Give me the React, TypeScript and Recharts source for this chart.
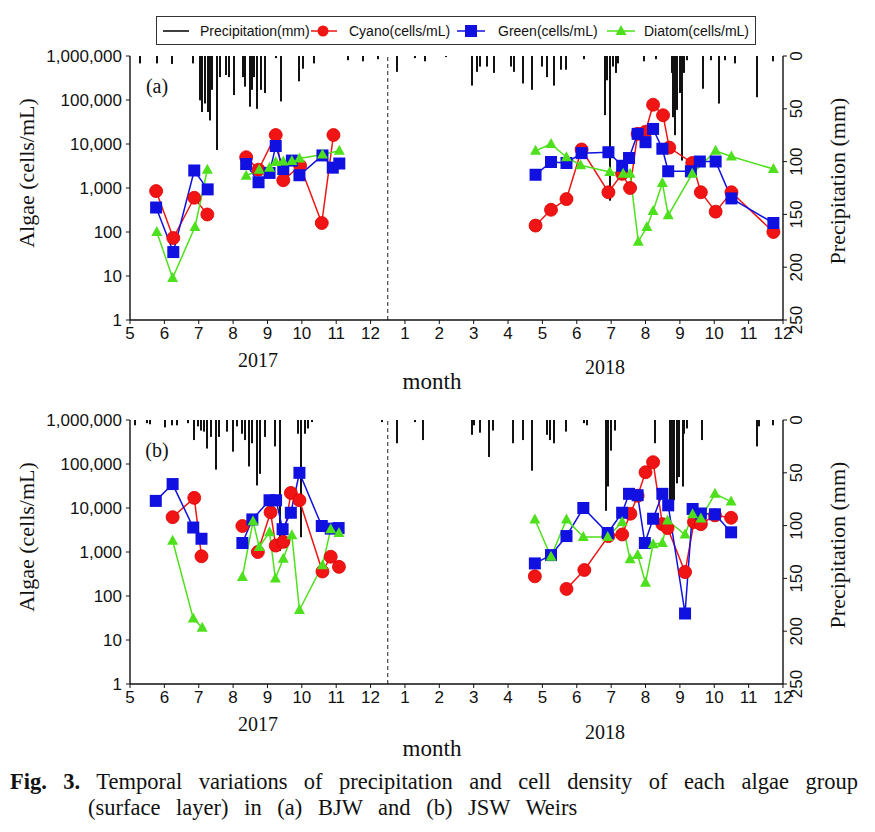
import { ComposedChart, Line, Bar, XAxis, YAxis, ReferenceLine } from 'recharts';

type Pt = [number, number | null];

const SANS = '"Liberation Sans", Arial, sans-serif';
const SERIF = '"Liberation Serif", "Times New Roman", serif';

// x = months counted from Jan 2017 (13 = Jan 2018, 24 = Dec 2018)
const monthTicks = [5, 6, 7, 8, 9, 10, 11, 12, 13, 14, 15, 16, 17, 18, 19, 20, 21, 22, 23, 24];
const algaeTicks = [1, 10, 100, 1000, 10000, 100000, 1000000];
const precipTicks = [0, 50, 100, 150, 200, 250];
const yearSplit = 12.5;

// (a) BJW — null breaks the line between sampling groups
const cyanoA: Pt[] = [
  [5.76, 850], [6.26, 73], [6.87, 600], [7.25, 250], [7.8, null],
  [8.38, 5000], [8.74, 2600], [9.24, 16000], [9.46, 1500], [9.95, 3200], [10.58, 160], [10.92, 16000], [12.5, null],
  [16.8, 140], [17.25, 320], [17.7, 560], [18.14, 7500], [18.92, 800], [19.32, 2100], [19.55, 1000], [19.77, 17000],
  [20.0, 19000], [20.22, 78000], [20.51, 45000], [20.69, 8300], [21.36, 3700], [21.61, 800], [22.04, 290], [22.5, 800], [23.72, 100],
];
const greenA: Pt[] = [
  [5.76, 360], [6.26, 35], [6.87, 2500], [7.26, 930], [7.8, null],
  [8.38, 3500], [8.74, 1350], [9.06, 2200], [9.24, 9000], [9.46, 2700], [9.71, 4200], [9.93, 1950], [10.6, 5500], [10.9, 2900], [11.09, 3600], [12.5, null],
  [16.8, 2000], [17.25, 3900], [17.7, 3700], [18.14, 6200], [18.92, 6500], [19.32, 3200], [19.52, 4800], [19.77, 17000],
  [20.0, 11000], [20.22, 22000], [20.49, 7800], [20.66, 2400], [21.32, 2400], [21.58, 4000], [22.04, 4000], [22.5, 580], [23.72, 160],
];
const diatomA: Pt[] = [
  [5.78, 100], [6.24, 9], [6.89, 130], [7.25, 2600], [7.8, null],
  [8.38, 1900], [8.76, 2600], [9.06, 2900], [9.24, 3900], [9.46, 4000], [9.71, 4100], [9.93, 4700], [10.6, 5800], [11.09, 7000], [12.5, null],
  [16.8, 7000], [17.25, 10000], [17.7, 5000], [18.11, 3300], [18.96, 2300], [19.35, 2100], [19.55, 2100], [19.79, 60],
  [20.04, 130], [20.22, 300], [20.49, 1300], [20.66, 240], [21.36, 2100], [22.04, 7000], [22.5, 5200], [23.72, 2700],
];
const precipA: Pt[] = [
  [5.29, 7], [5.8, 7], [6.21, 7.5], [6.84, 7], [7.04, 42], [7.1, 53], [7.18, 45], [7.26, 53], [7.33, 61], [7.4, 32],
  [7.52, 89], [7.62, 20], [7.79, 18], [7.89, 20], [8.03, 37], [8.3, 20], [8.35, 29], [8.48, 48], [8.55, 32], [8.62, 20],
  [8.71, 50], [8.82, 32], [8.93, 35], [9.25, 2], [9.4, 43], [9.93, 24], [10.02, 12], [10.36, 7], [11.35, 4], [11.79, 5], [12.23, 3],
  [12.78, 15], [13.29, 2], [13.58, 5], [14.2, 1], [14.96, 28], [15.09, 15], [15.18, 10], [15.4, 10], [15.59, 16], [16.1, 10],
  [16.18, 15], [16.44, 26], [16.71, 32], [17.0, 10], [17.12, 20], [17.33, 28], [17.54, 13], [17.68, 13], [18.2, 3], [18.82, 56],
  [18.89, 23], [18.98, 137], [19.05, 10], [19.13, 16], [19.2, 7], [19.96, 5], [20.3, 3], [20.76, 16], [20.81, 58], [20.86, 75],
  [20.93, 51], [21.0, 35], [21.07, 99], [21.12, 16], [21.2, 4], [21.66, 31], [21.9, 4], [22.15, 45], [22.3, 4], [22.6, 7],
  [23.23, 39], [23.7, 5],
];

// (b) JSW
const cyanoB: Pt[] = [
  [6.24, 6200], [6.87, 17000], [7.08, 800], [7.8, null],
  [8.27, 3900], [8.5, null], [8.72, 1000], [9.09, 8000], [9.24, 1400], [9.46, 1700], [9.68, 22000], [9.93, 15000], [10.6, 360], [10.84, 780], [11.08, 460], [12.5, null],
  [16.78, 280], [17.2, null], [17.7, 145], [18.22, 390], [18.92, 2300], [19.32, 2500], [19.56, 7400], [19.77, 19000], [20.0, 65000],
  [20.22, 110000], [20.49, 4300], [20.64, 3500], [21.15, 350], [21.41, 4800], [21.61, 4300], [22.02, 6800], [22.49, 6000],
];
const greenB: Pt[] = [
  [5.75, 14500], [6.24, 35000], [6.84, 3600], [7.08, 2000], [7.8, null],
  [8.27, 1600], [8.56, 5500], [9.06, 15000], [9.25, 15000], [9.44, 3300], [9.68, 7800], [9.93, 63000], [10.58, 3900], [10.84, 3400], [11.07, 3500], [12.5, null],
  [16.78, 550], [17.25, 850], [17.7, 2300], [18.19, 10000], [18.9, 2700], [19.32, 7800], [19.52, 21000], [19.77, 19500], [19.98, 1600],
  [20.22, 5700], [20.49, 21000], [20.66, 11500], [21.15, 40], [21.37, 9500], [21.61, 7500], [22.02, 7200], [22.49, 2800],
];
const diatomB: Pt[] = [
  [6.24, 1800], [6.84, 31], [7.1, 19], [7.8, null],
  [8.27, 270], [8.58, 5000], [8.76, 1300], [9.06, 2800], [9.23, 250], [9.46, 700], [9.71, 2400], [9.93, 48], [10.6, 500], [10.84, 3300], [11.08, 2700], [12.5, null],
  [16.78, 5500], [17.25, 780], [17.7, 5500], [18.19, 2200], [18.9, 2200], [19.32, 4800], [19.55, 680], [19.77, 860], [20.0, 200],
  [20.22, 1500], [20.49, 1600], [20.64, 5200], [21.15, 2500], [21.37, 7200], [21.61, 5800], [22.02, 21000], [22.49, 14000],
];
const precipB: Pt[] = [
  [5.15, 5], [5.5, 3], [5.58, 4], [6.02, 7], [6.21, 5], [6.36, 5], [6.7, 3], [6.86, 19], [6.99, 6], [7.07, 10], [7.15, 11],
  [7.25, 27], [7.35, 16], [7.5, 47], [7.6, 16], [7.81, 11], [8.01, 30], [8.1, 6], [8.25, 13], [8.35, 19], [8.47, 44], [8.54, 22],
  [8.69, 62], [8.78, 51], [8.93, 16], [9.22, 25], [9.36, 124], [9.9, 13], [9.99, 111], [10.09, 13], [10.19, 8], [10.3, 2], [12.34, 2],
  [12.78, 22], [13.29, 2], [13.53, 19], [14.94, 14], [15.0, 5], [15.18, 12], [15.45, 35], [15.57, 10], [16.13, 22], [16.44, 19],
  [16.71, 48], [17.12, 14], [17.22, 19], [17.34, 22], [17.68, 11], [18.2, 3], [18.3, 5], [18.85, 86], [18.92, 63], [19.0, 29],
  [19.11, 10], [20.28, 22], [20.71, 76], [20.76, 86], [20.83, 76], [20.91, 60], [20.97, 54], [21.08, 63], [21.12, 13], [21.2, 8],
  [21.63, 19], [23.23, 25], [23.3, 6], [23.7, 5],
];

const RED = '#f01414';
const BLUE = '#1010e0';
const LIME = '#4ee01c';

const rows = (pts: Pt[]) => pts.map(([m, v]) => ({ m, v }));
const precipRows = (pts: Pt[]) => pts.map(([m, p]) => ({ m, p }));
const monthLabel = (v: number) => String(v > 12 ? v - 12 : v);

const CircleDot = (p: any) =>
  p.cy == null ? null : <circle key={p.index} cx={p.cx} cy={p.cy} r={6.5} fill={RED} stroke="#d00" strokeWidth={0.8} />;
const SquareDot = (p: any) =>
  p.cy == null ? null : <rect key={p.index} x={p.cx - 6} y={p.cy - 6} width={12} height={12} fill={BLUE} />;
const TriangleDot = (p: any) =>
  p.cy == null ? null : (
    <polygon key={p.index} points={`${p.cx},${p.cy - 6} ${p.cx - 5.5},${p.cy + 4} ${p.cx + 5.5},${p.cy + 4}`} fill={LIME} />
  );

// thin black stick hanging from the top axis
const RainStick = (p: any) => {
  if (p.height == null || p.x == null) return <g />;
  const cx = Math.round(p.x + p.width / 2);
  const y0 = Math.min(p.y, p.y + p.height);
  const h = Math.abs(p.height);
  return <rect x={cx - 1} y={y0} width={2} height={h} fill="#111" />;
};

const RightTick = (p: any) => {
  const bx = p.x + 13;
  return (
    <text x={bx} y={p.y} transform={`rotate(-90 ${bx} ${p.y})`} textAnchor="middle" fontSize={17} fontFamily={SANS} fill="#111">
      {p.payload.value}
    </text>
  );
};

function Rotated({ x, y, text }: { x: number; y: number; text: string }) {
  return (
    <div style={{ position: 'absolute', left: x, top: y, transform: 'translate(-50%, -50%) rotate(-90deg)', whiteSpace: 'nowrap', fontFamily: SERIF, fontSize: 22, color: '#111' }}>
      {text}
    </div>
  );
}

function Label({ x, y, text, size = 20 }: { x: number; y: number; text: string; size?: number }) {
  return (
    <div style={{ position: 'absolute', left: x, top: y, transform: 'translate(-50%, -50%)', whiteSpace: 'nowrap', fontFamily: SERIF, fontSize: size, color: '#111' }}>
      {text}
    </div>
  );
}

function Panel({ top, tag, precip, cyano, green, diatom }: { top: number; tag: string; precip: Pt[]; cyano: Pt[]; green: Pt[]; diatom: Pt[] }) {
  const axisLine = { stroke: '#111', strokeWidth: 1.4 };
  return (
    <div style={{ position: 'absolute', left: 0, top, width: 875, height: 360 }}>
      <ComposedChart width={875} height={360} data={precipRows(precip)} margin={{ top: 56, right: 32, bottom: 10, left: 60 }}>
        <XAxis xAxisId="b" dataKey="m" type="number" domain={[5, 24]} ticks={monthTicks} interval={0} allowDataOverflow
          tickFormatter={monthLabel} height={30} axisLine={axisLine} tickLine={{ stroke: '#111' }} tickSize={4} tickMargin={3}
          tick={{ fill: '#111', fontSize: 17, fontFamily: SANS }} />
        <XAxis xAxisId="t" orientation="top" dataKey="m" type="number" domain={[5, 24]} allowDataOverflow tick={false} tickLine={false} height={0} axisLine={axisLine} />
        <YAxis yAxisId="l" scale="log" domain={[1, 1000000]} ticks={algaeTicks} allowDataOverflow width={70} interval={0}
          tickFormatter={(v: number) => v.toLocaleString('en-US')} axisLine={axisLine} tickLine={{ stroke: '#111' }} tickSize={4} tickMargin={4}
          tick={{ fill: '#111', fontSize: 17, fontFamily: SANS }} />
        <YAxis yAxisId="r" orientation="right" domain={[0, 250]} reversed ticks={precipTicks} interval={0} width={60}
          axisLine={axisLine} tickLine={{ stroke: '#111' }} tickSize={4} tickMargin={2} tick={<RightTick />} />
        <ReferenceLine xAxisId="b" yAxisId="l" x={yearSplit} stroke="#222" strokeDasharray="4 3" />
        <Bar xAxisId="b" yAxisId="r" dataKey="p" fill="#000" barSize={2} shape={RainStick} isAnimationActive={false} />
        <Line xAxisId="b" yAxisId="l" data={rows(cyano)} dataKey="v" stroke={RED} strokeWidth={1.5} dot={CircleDot} activeDot={false} isAnimationActive={false} />
        <Line xAxisId="b" yAxisId="l" data={rows(green)} dataKey="v" stroke={BLUE} strokeWidth={1.5} dot={SquareDot} activeDot={false} isAnimationActive={false} />
        <Line xAxisId="b" yAxisId="l" data={rows(diatom)} dataKey="v" stroke={LIME} strokeWidth={1.5} dot={TriangleDot} activeDot={false} isAnimationActive={false} />
      </ComposedChart>
      <Label x={157} y={86} text={tag} />
      <Rotated x={27} y={173} text="Algae (cells/mL)" />
      <Rotated x={838} y={181} text="Precipitation (mm)" />
    </div>
  );
}

function LegendBox() {
  const txt = { position: 'absolute' as const, top: 6, fontFamily: SANS, fontSize: 14, color: '#111', whiteSpace: 'nowrap' as const };
  return (
    <div style={{ position: 'absolute', left: 156, top: 16, width: 600, height: 29, border: '1px solid #333', boxSizing: 'border-box' }}>
      <svg width={600} height={29} style={{ position: 'absolute', left: 0, top: 0 }}>
        <line x1={6} x2={32} y1={14} y2={14} stroke="#000" strokeWidth={1.5} />
        <line x1={154} x2={180} y1={14} y2={14} stroke={RED} strokeWidth={1.5} />
        <circle cx={166} cy={14} r={5.5} fill={RED} />
        <line x1={300} x2={328} y1={14} y2={14} stroke={BLUE} strokeWidth={1.5} />
        <rect x={308} y={8} width={12} height={12} fill={BLUE} />
        <line x1={450} x2={478} y1={14} y2={14} stroke={LIME} strokeWidth={1.5} />
        <polygon points="464,8 458.5,18 469.5,18" fill={LIME} />
      </svg>
      <span style={{ ...txt, left: 43 }}>Precipitation(mm)</span>
      <span style={{ ...txt, left: 192 }}>Cyano(cells/mL)</span>
      <span style={{ ...txt, left: 341 }}>Green(cells/mL)</span>
      <span style={{ ...txt, left: 487 }}>Diatom(cells/mL)</span>
    </div>
  );
}

export default function App() {
  return (
    <div style={{ position: 'absolute', left: 0, top: 0, width: 875, height: 832, background: '#fff', overflow: 'hidden' }}>
      <Panel top={0} tag="(a)" precip={precipA} cyano={cyanoA} green={greenA} diatom={diatomA} />
      <Panel top={364} tag="(b)" precip={precipB} cyano={cyanoB} green={greenB} diatom={diatomB} />
      <LegendBox />
      <Label x={258} y={360} text="2017" />
      <Label x={605} y={367} text="2018" />
      <Label x={432} y={382} text="month" size={23} />
      <Label x={258} y={724} text="2017" />
      <Label x={605} y={732} text="2018" />
      <Label x={432} y={749} text="month" size={23} />
      <div style={{ position: 'absolute', left: 10, top: 769, width: 848, fontFamily: SERIF, fontSize: 22.5, color: '#111', textAlign: 'justify', textAlignLast: 'justify', whiteSpace: 'nowrap' }}>
        <b>Fig. 3.</b> Temporal variations of precipitation and cell density of each algae group
      </div>
      <div style={{ position: 'absolute', left: 88, top: 795, fontFamily: SERIF, fontSize: 22.5, color: '#111', wordSpacing: 10, whiteSpace: 'nowrap' }}>
        (surface layer) in (a) BJW and (b) JSW Weirs
      </div>
    </div>
  );
}
